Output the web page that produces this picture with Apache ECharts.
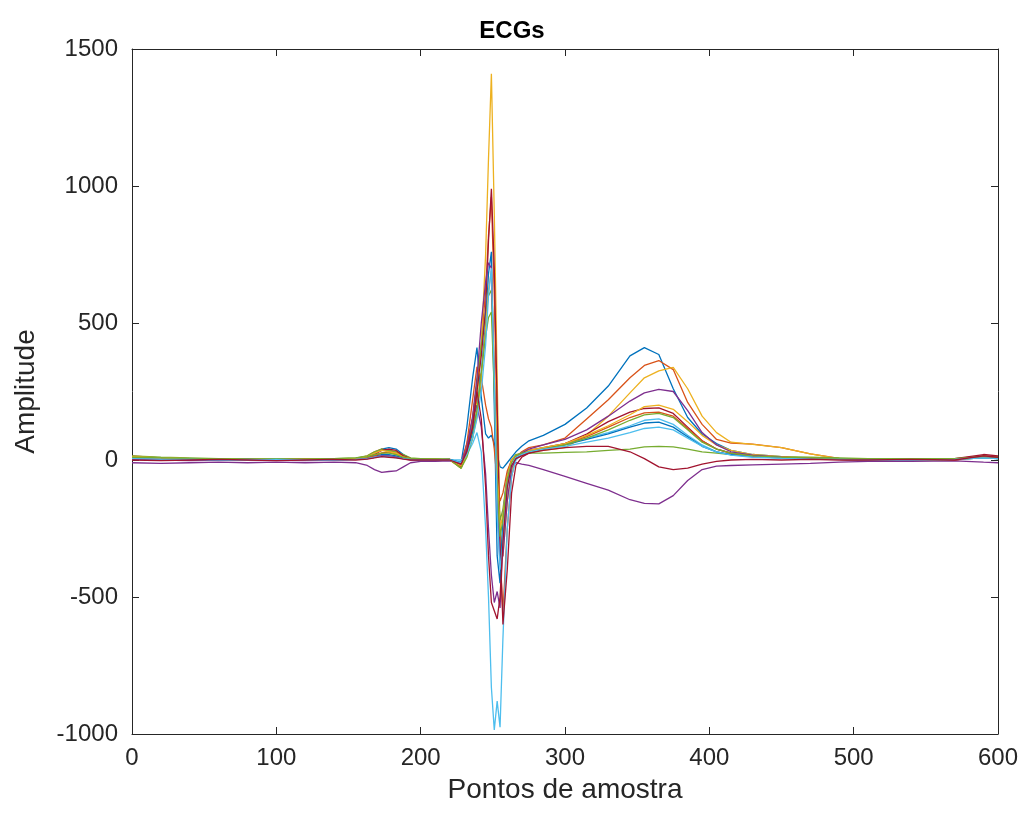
<!DOCTYPE html>
<html>
<head>
<meta charset="utf-8">
<title>ECGs</title>
<script src="https://cdn.jsdelivr.net/npm/echarts@6/dist/echarts.min.js"></script>
<style>
  html, body { margin: 0; padding: 0; background: #fff; }
  #ecg-chart { width: 1024px; height: 818px; }
</style>
</head>
<body>
<div id="ecg-chart"></div>
<script>
// amostras (eixo x) - linha de base/P, QRS, T
var samplesP = [0, 20, 40, 60, 80, 100, 120, 140, 155, 163, 168, 173, 178, 183, 188, 193, 200, 210, 220];
var samplesQRS = [228, 232, 236, 239, 242, 245, 247, 249, 251, 253, 255, 257, 260, 263, 266, 270, 275];
var samplesT = [285, 300, 315, 330, 345, 355, 365, 375, 385, 395, 405, 415, 430, 450, 470, 490, 510, 540, 570, 590, 600];

var xTicks = [0, 100, 200, 300, 400, 500, 600];
var yTicks = [-1000, -500, 0, 500, 1000, 1500];

// cores padrao do matlab
var lineColors = ['#0072BD', '#D95319', '#EDB120', '#7E2F8E', '#77AC30', '#4DBEEE', '#A2142F'];

var ecg1 = [
  10, 5, 3, 0, 2, 0, 3, 0, 2, 10, 25, 40, 45, 40, 20, 5, 0, 2, 0,
  -10, 120, 300, 410, 230, 95, 80, 90, 60, 20, -25, -30, -10, 10, 30, 50, 70,
  90, 130, 190, 270, 380, 410, 385, 260, 155, 95, 60, 35, 20, 12, 6, 2, 0, 0, 3, 10, 5
];
var ecg2 = [
  15, 8, 5, 3, 0, 3, 2, 0, 5, 15, 30, 40, 35, 30, 15, 5, 2, 0, 3,
  -20, 40, 150, 280, 420, 620, 820, 960, 600, 100, -350, -560, -250, -60, 10, 30, 45,
  55, 80, 150, 220, 300, 345, 363, 330, 210, 130, 75, 62, 58, 45, 22, 6, 0, 2, 0, 15, 10
];
var ecg3 = [
  12, 6, 4, 2, 3, 0, 2, 3, 5, 10, 20, 25, 30, 20, 10, 5, 3, 2, 0,
  -30, 20, 100, 220, 420, 750, 1100, 1410, 900, 300, -250, -350, -150, -40, 5, 20, 30,
  35, 45, 90, 160, 245, 300, 325, 338, 260, 160, 100, 65, 57, 45, 22, 5, 0, 2, 0, 10, 5
];
var ecg4 = [
  -10, -12, -10, -8, -10, -8, -10, -8, -10, -20, -35, -45, -42, -40, -25, -10, -5, -5, -3,
  -10, 60, 150, 200, 120, -50, -250, -420, -520, -480, -540, -300, -80, -20, -10, -15, -20,
  -35, -60, -85, -110, -145, -158, -160, -130, -75, -35, -22, -20, -18, -15, -12, -8, -5, -5, -3, -8, -10
];
var ecg5 = [
  15, 10, 8, 5, 5, 3, 5, 5, 8, 15, 30, 40, 35, 30, 20, 8, 5, 5, 3,
  -30, 30, 150, 280, 420, 540, 600, 620, 300, -50, -220, -180, -60, 0, 20, 25, 25,
  25, 28, 30, 35, 40, 48, 50, 48, 40, 30, 25, 20, 15, 12, 10, 8, 5, 5, 5, 15, 10
];
var ecg6 = [
  5, 3, 2, 0, 2, 0, 0, 2, 3, 5, 10, 15, 15, 10, 5, 2, 0, 0, 0,
  0, 20, 60, 100, 30, -250, -500, -830, -985, -880, -975, -650, -250, -60, 0, 20, 35,
  45, 60, 80, 100, 125, 145, 150, 130, 90, 55, 30, 20, 12, 8, 5, 2, 0, 0, 2, 8, 5
];
var ecg7 = [
  5, 3, 0, 2, 0, 2, 0, 3, 2, 8, 20, 35, 40, 35, 15, 5, 2, 0, 0,
  -20, 30, 120, 250, 380, 550, 800, 990, 700, 200, -300, -600, -400, -120, -20, 10, 25,
  40, 60, 95, 140, 175, 188, 190, 170, 120, 70, 40, 25, 15, 10, 5, 2, 0, 0, 5, 20, 15
];
var ecg8 = [
  8, 5, 2, 0, 2, 0, 0, 2, 3, 8, 15, 20, 20, 15, 8, 3, 0, 0, 2,
  -10, 30, 100, 180, 320, 500, 680, 760, 200, -350, -450, -200, -50, 0, 10, 20, 30,
  40, 55, 75, 95, 120, 135, 138, 120, 85, 50, 30, 20, 12, 8, 5, 2, 0, 0, 2, 8, 5
];
var ecg9 = [
  10, 5, 3, 2, 0, 2, 3, 0, 3, 8, 15, 25, 30, 25, 12, 5, 2, 0, 0,
  -25, 60, 220, 340, 300, 200, 150, 120, 40, -80, -150, -120, -40, 0, 15, 25, 35,
  45, 60, 85, 120, 155, 172, 175, 160, 115, 70, 40, 25, 15, 10, 5, 2, 0, 0, 3, 12, 8
];
var ecg10 = [
  12, 8, 5, 3, 2, 3, 2, 3, 5, 12, 25, 35, 30, 25, 10, 5, 2, 2, 0,
  -20, 20, 80, 160, 300, 480, 620, 690, 350, -50, -250, -200, -60, 0, 15, 25, 35,
  45, 60, 90, 125, 165, 195, 200, 185, 140, 90, 55, 35, 20, 12, 6, 2, 0, 0, 2, 10, 5
];
var ecg11 = [
  2, 0, -2, 0, 2, 0, -2, 0, 2, 5, 10, 15, 15, 10, 5, 0, 0, -2, 0,
  -15, 40, 160, 300, 500, 650, 720, 700, 300, -150, -380, -350, -150, -30, 10, 25, 40,
  55, 75, 110, 160, 215, 245, 258, 250, 180, 100, 55, 30, 18, 10, 5, 2, 0, 0, 3, 12, 8
];
var ecg12 = [
  10, 8, 5, 5, 3, 5, 3, 5, 8, 12, 20, 25, 25, 20, 10, 5, 5, 3, 3,
  -30, 10, 80, 180, 320, 450, 520, 540, 250, -100, -280, -220, -70, -10, 15, 25, 30,
  40, 55, 80, 110, 145, 165, 170, 155, 110, 65, 40, 25, 15, 10, 8, 6, 5, 5, 5, 12, 10
];
var ecg13 = [
  5, 3, 2, 0, 0, 2, 0, 0, 2, 5, 10, 12, 12, 8, 5, 2, 0, 0, 0,
  -10, 20, 80, 150, 250, 420, 600, 700, 300, -200, -400, -300, -100, -20, 10, 20, 30,
  40, 50, 65, 80, 100, 115, 120, 110, 80, 50, 30, 18, 10, 6, 3, 2, 0, 0, 2, 8, 5
];
var ecg14 = [
  0, -2, 0, 2, 0, -2, 0, 2, 0, 3, 8, 12, 10, 8, 3, 0, 0, 0, 0,
  -15, 30, 120, 250, 150, -100, -350, -520, -550, -580, -500, -300, -100, -20, 5, 15, 25,
  35, 45, 50, 50, 30, 5, -25, -35, -30, -15, -5, 0, 2, 0, 2, 0, 0, 2, 0, 15, 10
];

var samples = samplesP.concat(samplesQRS, samplesT);
var ecgList = [ecg1, ecg2, ecg3, ecg4, ecg5, ecg6, ecg7, ecg8, ecg9, ecg10, ecg11, ecg12, ecg13, ecg14];

var axisColor = '#262626';
var fontFamily = '"Liberation Sans", Arial, sans-serif';

var seriesList = ecgList.map(function (vals, i) {
  return {
    name: 'ECG ' + (i + 1),
    type: 'line',
    showSymbol: false,
    smooth: false,
    lineStyle: { width: 1.3, color: lineColors[i % lineColors.length] },
    data: samples.map(function (x, k) { return [x, vals[k]]; })
  };
});

function boxAxis(extra) {
  var base = {
    axisLine: { show: true, onZero: false, lineStyle: { color: axisColor, width: 1 } },
    axisTick: { show: true, inside: true, length: 7, lineStyle: { color: axisColor } },
    splitLine: { show: false }
  };
  return Object.assign(base, extra);
}

// sem separador de milhar, como no matlab
function plainNumber(v) {
  return String(v);
}

var chart = echarts.init(document.getElementById('ecg-chart'));
var option = {
  animation: false,
  backgroundColor: '#fff',
  color: lineColors,
  title: {
    text: 'ECGs',
    left: 'center',
    top: 14,
    textStyle: { fontFamily: fontFamily, fontSize: 24, fontWeight: 'bold', color: '#000' }
  },
  grid: { left: 132, right: 26, top: 49, bottom: 84 },
  xAxis: [
    boxAxis({
      type: 'value',
      min: xTicks[0],
      max: xTicks[xTicks.length - 1],
      interval: 100,
      position: 'bottom',
      name: 'Pontos de amostra',
      nameLocation: 'middle',
      nameGap: 42,
      nameTextStyle: { fontFamily: fontFamily, fontSize: 28, color: axisColor },
      axisLabel: { fontFamily: fontFamily, fontSize: 24, color: axisColor, margin: 12, formatter: plainNumber }
    }),
    boxAxis({
      type: 'value',
      min: xTicks[0],
      max: xTicks[xTicks.length - 1],
      interval: 100,
      position: 'top',
      axisLabel: { show: false }
    })
  ],
  yAxis: [
    boxAxis({
      type: 'value',
      min: yTicks[0],
      max: yTicks[yTicks.length - 1],
      interval: 500,
      position: 'left',
      name: 'Amplitude',
      nameLocation: 'middle',
      nameGap: 92,
      nameTextStyle: { fontFamily: fontFamily, fontSize: 28, color: axisColor },
      axisLabel: { fontFamily: fontFamily, fontSize: 24, color: axisColor, margin: 14, formatter: plainNumber }
    }),
    boxAxis({
      type: 'value',
      min: yTicks[0],
      max: yTicks[yTicks.length - 1],
      interval: 500,
      position: 'right',
      axisLabel: { show: false }
    })
  ],
  series: seriesList
};
chart.setOption(option);
</script>
</body>
</html>
